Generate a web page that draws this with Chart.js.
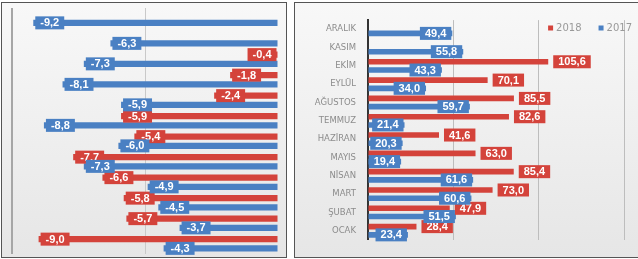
<!DOCTYPE html>
<html>
<head>
<meta charset="utf-8">
<script src="https://cdn.jsdelivr.net/npm/chart.js@4.4.0/dist/chart.umd.min.js"></script>
<style>
  body { margin: 0; background: #fff; width: 638px; height: 259px; position: relative; overflow: hidden; }
  .panel { position: absolute; top: 2px; height: 254px; border: 1px solid #555;
           background: linear-gradient(#f8f8f8, #e6e6e6); }
  #leftPanel { left: 1px; width: 284px; }
  #rightPanel { left: 294px; width: 350px; }
  canvas { position: absolute; top: 0; left: 0; }
</style>
</head>
<body>
<div class="panel" id="leftPanel"><canvas id="changeChart" width="284" height="254"></canvas></div>
<div class="panel" id="rightPanel"><canvas id="salesChart" width="343" height="254"></canvas></div>
<script>
// months, top to bottom
const months = ['ARALIK', 'KASIM', 'EKİM', 'EYLÜL', 'AĞUSTOS', 'TEMMUZ', 'HAZİRAN', 'MAYIS', 'NİSAN', 'MART', 'ŞUBAT', 'OCAK'];
const seriesNames = ['2018', '2017'];

// left panel: change (%)
const change2018 = [null, null, -0.4, -1.8, -2.4, -5.9, -5.4, -7.7, -6.6, -5.8, -5.7, -9.0];
const change2017 = [-9.2, -6.3, -7.3, -8.1, -5.9, -8.8, -6.0, -7.3, -4.9, -4.5, -3.7, -4.3];

// right panel: values
const sales2018 = [null, null, 105.6, 70.1, 85.5, 82.6, 41.6, 63.0, 85.4, 73.0, 47.9, 28.4];
const sales2017 = [49.4, 55.8, 43.3, 34.0, 59.7, 21.4, 20.3, 19.4, 61.6, 60.6, 51.5, 23.4];

const RED = '#d4433b';
const BLUE = '#4a80c3';

const fmt = v => v.toFixed(1).replace('.', ',');

// box labels at bar ends (like excel callouts)
const boxLabels = {
    id: 'boxLabels',
    afterDatasetsDraw(chart, args, opts) {
        const ctx = chart.ctx;
        ctx.save();
        ctx.font = 'bold 11px "Liberation Sans", Arial, sans-serif';
        ctx.textAlign = 'center';
        ctx.textBaseline = 'middle';
        chart.data.datasets.forEach((ds, di) => {
            const meta = chart.getDatasetMeta(di);
            const mode = opts.modes[di];
            meta.data.forEach((bar, i) => {
                const v = ds.data[i];
                if (v === null || v === undefined) return;
                const txt = fmt(v);
                const w = ctx.measureText(txt).width + 10;
                const h = 13;
                let left;
                if (mode === 'outside') {
                    left = bar.x + 5;
                } else if (mode === 'insideEnd') {
                    left = bar.x - w - 1;
                } else { // negative bars, box starts at bar end
                    left = bar.x + 2;
                    if (left + w > bar.base - 1) left = bar.base - 1 - w;
                }
                ctx.fillStyle = ds.backgroundColor;
                ctx.fillRect(left, bar.y - h / 2, w, h);
                ctx.fillStyle = '#fff';
                ctx.fillText(txt, left + w / 2, bar.y + 0.5);
            });
        });
        ctx.restore();
    }
};

// small legend in the top right corner
const cornerLegend = {
    id: 'cornerLegend',
    afterDraw(chart, args, opts) {
        if (!opts.display) return;
        const ctx = chart.ctx;
        ctx.save();
        ctx.font = '10px "DejaVu Sans", sans-serif';
        ctx.textBaseline = 'middle';
        const items = chart.data.datasets.map(d => ({ text: d.label, color: d.backgroundColor, w: ctx.measureText(d.label).width }));
        let total = 0;
        items.forEach((it, i) => { total += 5 + 3 + it.w + (i < items.length - 1 ? 17 : 0); });
        let x = chart.width - 6 - total;
        const y = opts.y;
        items.forEach(it => {
            ctx.fillStyle = it.color;
            ctx.fillRect(x, y - 2.5, 5, 5);
            x += 8;
            ctx.fillStyle = '#999';
            ctx.fillText(it.text, x, y);
            x += it.w + 17;
        });
        ctx.restore();
    }
};

function makeDatasets(a, b) {
    return [
        { label: seriesNames[0], data: a, backgroundColor: RED, categoryPercentage: 0.9, barPercentage: 0.68 },
        { label: seriesNames[1], data: b, backgroundColor: BLUE, categoryPercentage: 0.9, barPercentage: 0.68 }
    ];
}

// --- left chart ---
new Chart(document.getElementById('changeChart'), {
    type: 'bar',
    data: { labels: months, datasets: makeDatasets(change2018, change2017) },
    plugins: [boxLabels],
    options: {
        indexAxis: 'y',
        responsive: false,
        animation: false,
        layout: { padding: { left: 10, right: 8, top: 5, bottom: 3 } },
        plugins: {
            legend: { display: false },
            tooltip: { enabled: false },
            boxLabels: { modes: ['neg', 'neg'] }
        },
        scales: {
            x: {
                min: -10, max: 0,
                ticks: { display: false, stepSize: 5 },
                border: { display: false },
                grid: {
                    drawTicks: false,
                    color: c => c.tick.value === -10 ? '#a6a6a6' : (c.tick.value === 0 ? 'rgba(0,0,0,0)' : '#c9c9c9'),
                    lineWidth: c => c.tick.value === -10 ? 2 : 1
                },
                afterFit: axis => { axis.height = 0; }
            },
            y: { display: false }
        }
    }
});

// --- right chart ---
new Chart(document.getElementById('salesChart'), {
    type: 'bar',
    data: { labels: months, datasets: makeDatasets(sales2018, sales2017) },
    plugins: [boxLabels, cornerLegend],
    options: {
        indexAxis: 'y',
        responsive: false,
        animation: false,
        layout: { padding: { left: 0, right: 14, top: 14, bottom: 1 } },
        plugins: {
            legend: { display: false },
            tooltip: { enabled: false },
            boxLabels: { modes: ['outside', 'insideEnd'] },
            cornerLegend: { display: true, y: 25 }
        },
        scales: {
            x: {
                min: 0, max: 150,
                ticks: { display: false, stepSize: 50 },
                border: { display: false },
                grid: {
                    drawTicks: false,
                    color: c => c.tick.value === 0 ? 'rgba(0,0,0,0)' : '#bdbdbd'
                },
                afterFit: axis => { axis.height = 0; }
            },
            y: {
                ticks: { color: '#8c8c8c', padding: 12, font: { size: 8.5, family: '"DejaVu Sans", sans-serif' } },
                grid: { display: false, drawTicks: false },
                border: { display: true, color: '#333', width: 2 },
                afterFit: axis => { axis.width = 73; }
            }
        }
    }
});
</script>
</body>
</html>
